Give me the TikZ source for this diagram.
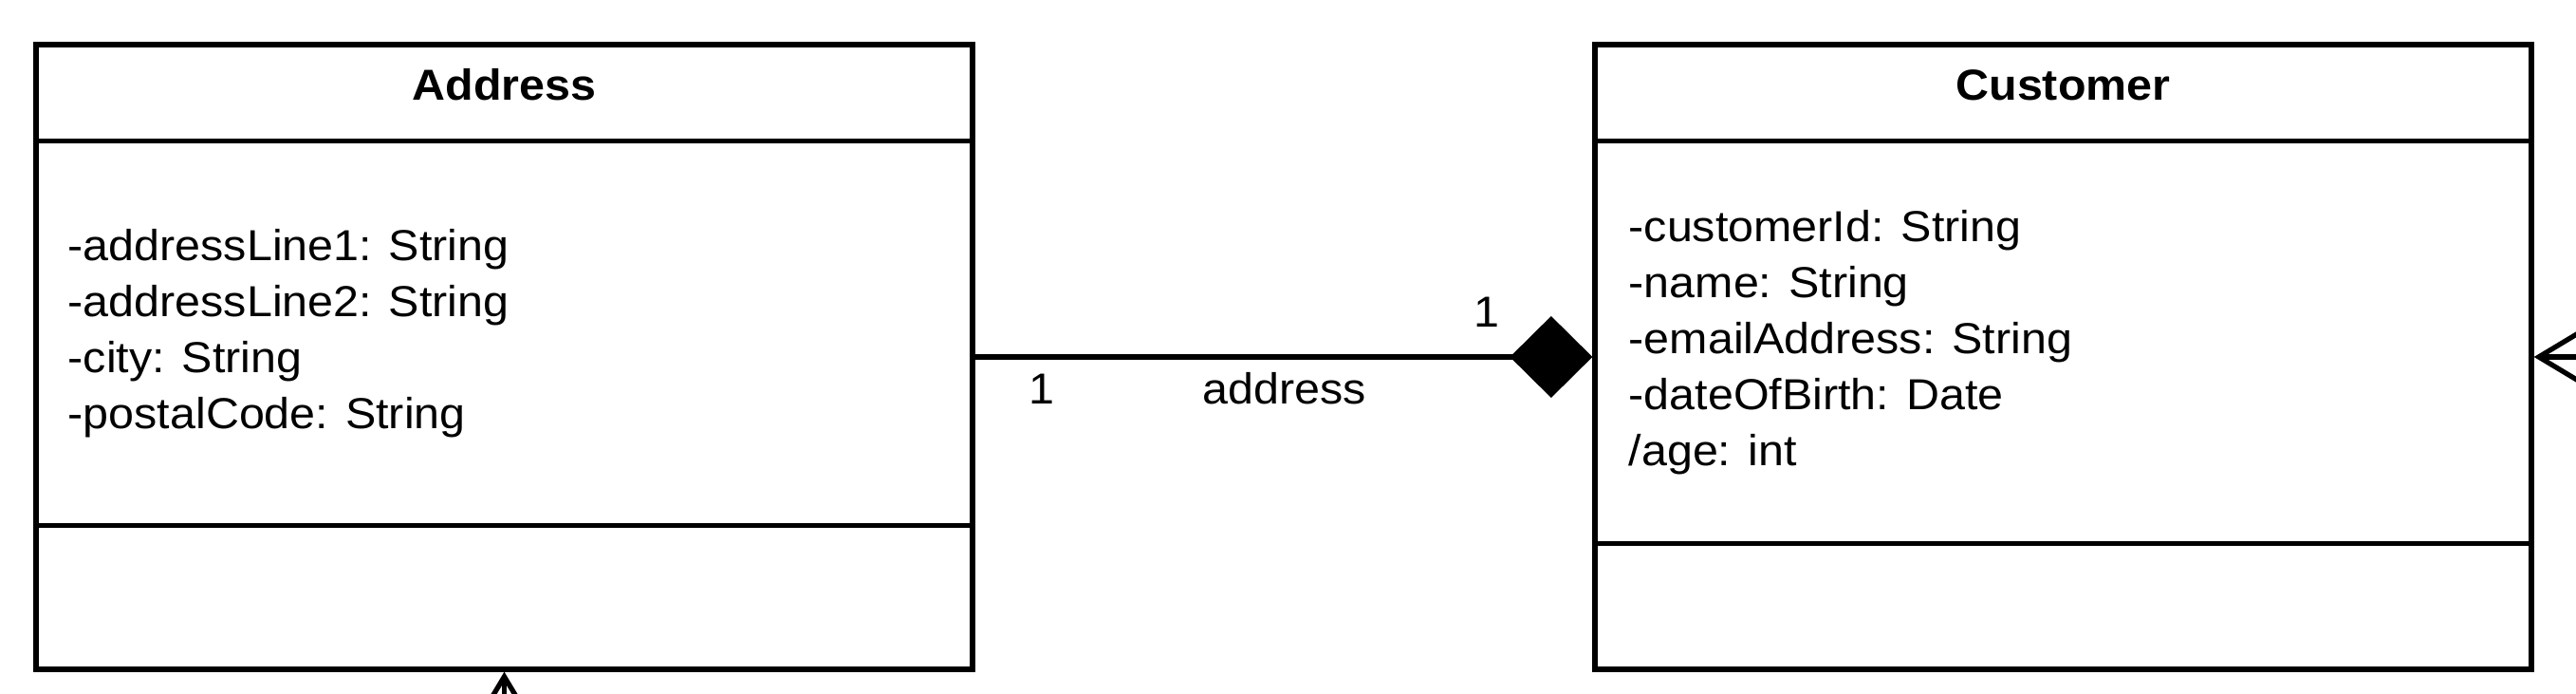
\documentclass[tikz,border=0pt]{standalone}
\usepackage{fontspec}
\setmainfont{Liberation Sans}[FakeStretch=1.06]
\usetikzlibrary{arrows.meta}

\begin{document}
\begin{tikzpicture}[
	classbox/.style={draw, line width=1.5pt, minimum width=9.87cm, minimum height=6.58cm, inner sep=0pt},
	classline/.style={line width=1.5pt},
	classname/.style={font=\fontsize{13}{16.8}\selectfont\bfseries, anchor=base, inner sep=0pt},
	attr/.style={font=\fontsize{13}{16.8}\selectfont, anchor=base west, inner sep=0pt},
	lbl/.style={font=\fontsize{13}{16.8}\selectfont, anchor=base, inner sep=0pt},
	conn/.style={line width=1.5pt}
	]
	\clip (0,0) rectangle (27.15,7.31);
	% the two classes
	\node[classbox] (address) at (5.315,3.55) {};
	\node[classbox] (customer) at (21.745,3.55) {};
	% compartments
	\draw[classline] ([yshift=-1.04cm]address.north west) -- ([yshift=-1.04cm]address.north east);
	\draw[classline] ([yshift=-5.09cm]address.north west) -- ([yshift=-5.09cm]address.north east);
	\draw[classline] ([yshift=-1.04cm]customer.north west) -- ([yshift=-1.04cm]customer.north east);
	\draw[classline] ([yshift=-5.28cm]customer.north west) -- ([yshift=-5.28cm]customer.north east);
	% class names
	\node[classname] (addressname) at ([yshift=-0.61cm]address.north) {Address};
	\node[classname] (customername) at ([yshift=-0.61cm]customer.north) {Customer};
	% attributes
	\node[attr] (addrline1) at (0.71,4.565) {-addressLine1: String};
	\node[attr] (addrline2) at (0.71,3.975) {-addressLine2: String};
	\node[attr] (addrcity) at (0.71,3.385) {-city: String};
	\node[attr] (addrcode) at (0.71,2.795) {-postalCode: String};
	\node[attr] (custid) at (17.16,4.76) {-customerId: String};
	\node[attr] (custname) at (17.16,4.17) {-name: String};
	\node[attr] (custmail) at (17.16,3.58) {-emailAddress: String};
	\node[attr] (custbirth) at (17.16,2.99) {-dateOfBirth: Date};
	\node[attr] (custage) at (17.16,2.40) {/age: int};
	% composition
	\draw[conn,-{Diamond[length=0.87cm,width=0.86cm]}] (address.east) -- (customer.west);
	\node[lbl] (multaddr) at (10.98,3.05) {1};
	\node[lbl] (rolename) at (13.54,3.05) {address};
	\node[lbl] (multcust) at (15.67,3.86) {1};
	% links coming in from outside
	\coordinate (offright) at (28.5,3.55);
	\coordinate (offbelow) at (5.315,-1);
	\draw[conn,-{Straight Barb[length=0.6cm,width=0.72cm]}] (offright) -- (customer.east);
	\draw[conn,-{Straight Barb[length=0.6cm,width=0.72cm]}] (offbelow) -- (address.south);
\end{tikzpicture}
\end{document}
